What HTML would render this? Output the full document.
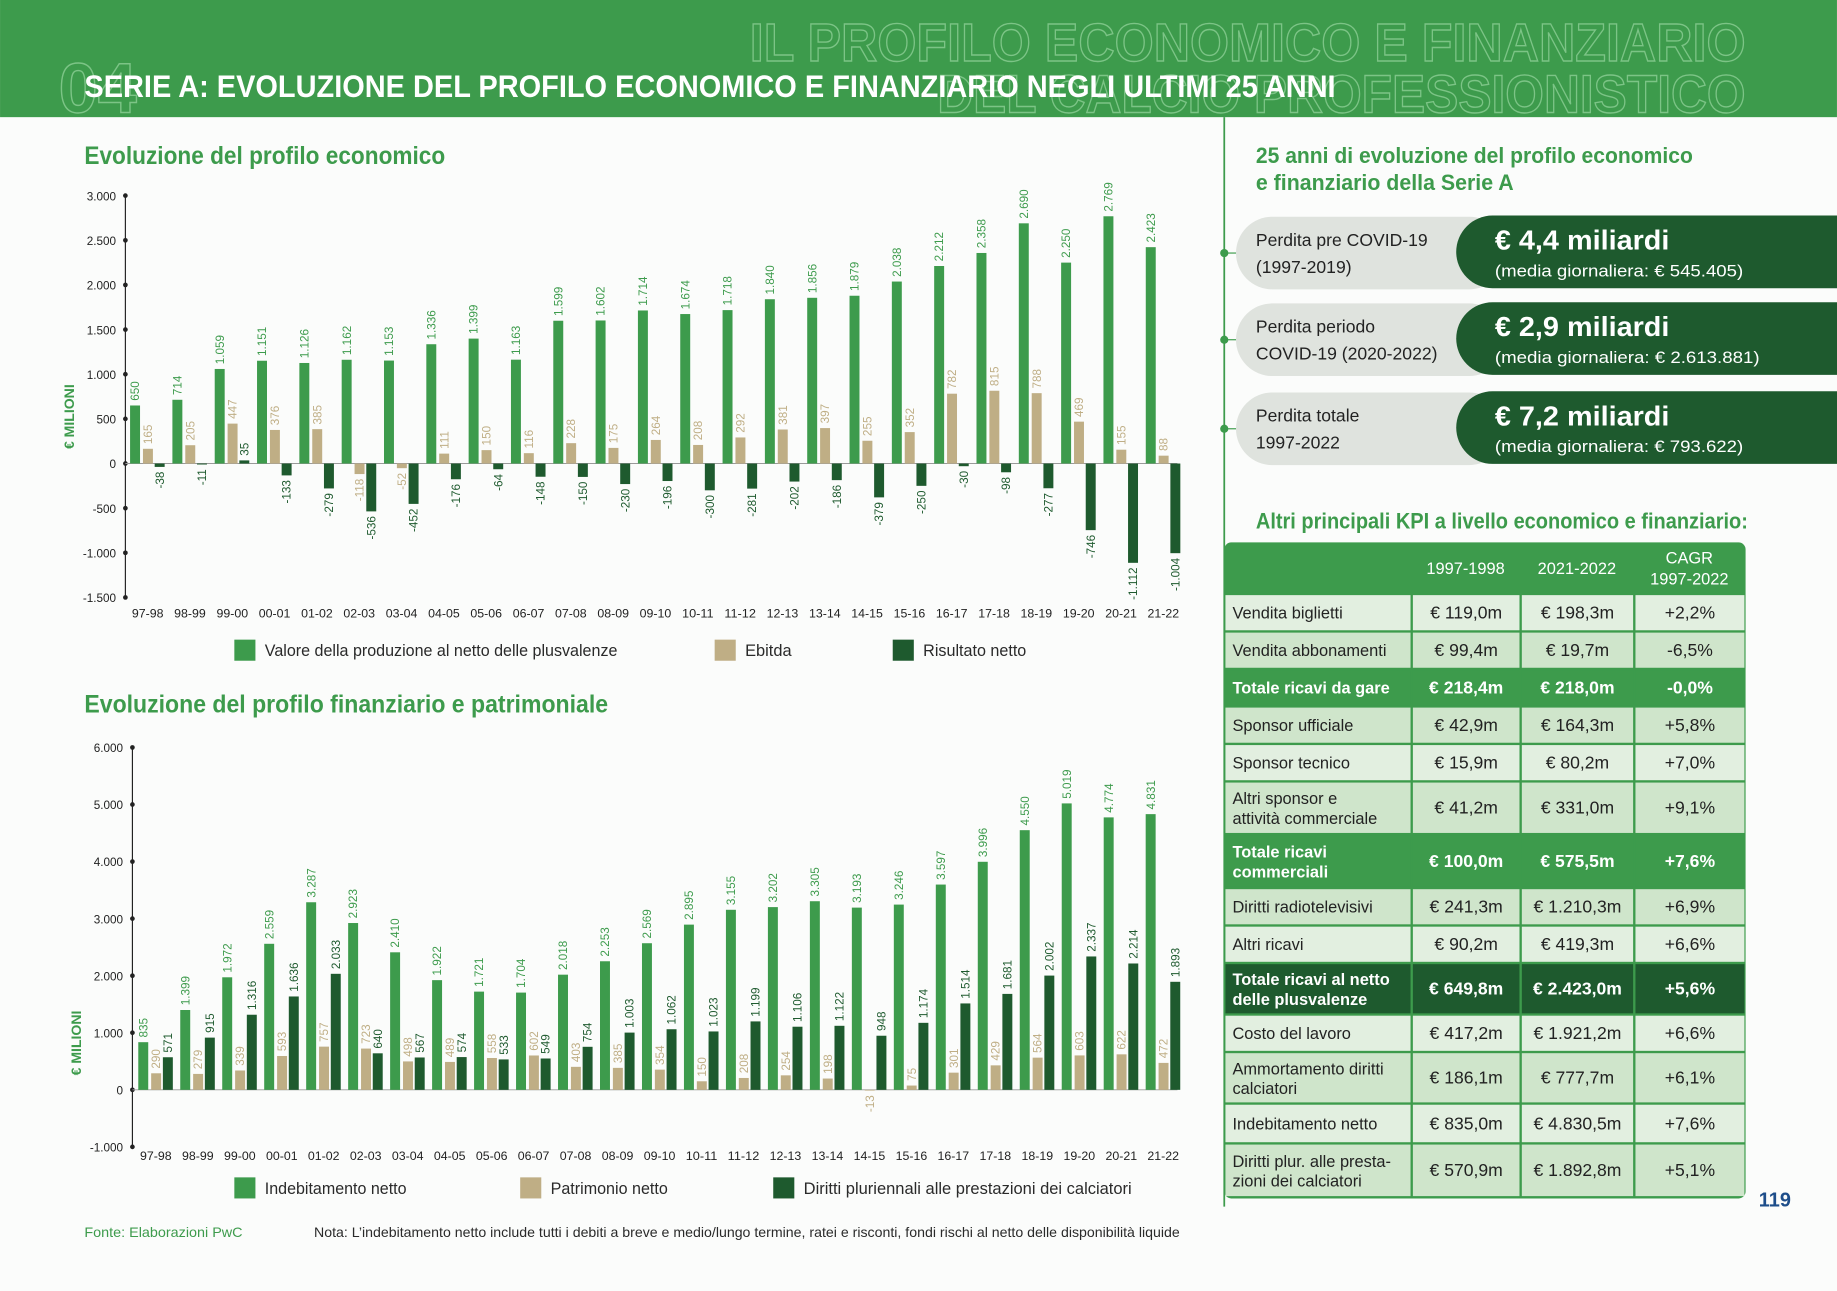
<!DOCTYPE html>
<html><head><meta charset="utf-8">
<style>
html,body{margin:0;padding:0;background:#fbfcfb;}
svg{display:block;font-family:"Liberation Sans Narrow","Liberation Sans",sans-serif;}
</style></head>
<body>
<svg id="s" width="1837" height="1291" viewBox="0 0 1568 1102" xmlns="http://www.w3.org/2000/svg">
<rect x="0" y="0" width="1568" height="1102" fill="#fbfcfb"/>
<rect x="0" y="0" width="1568" height="100" fill="#3d9b4c"/>
<text x="1490" y="52" text-anchor="end" font-size="46" font-weight="bold" fill="none" stroke="#7cc486" stroke-width="1.2" textLength="850" lengthAdjust="spacingAndGlyphs">IL PROFILO ECONOMICO E FINANZIARIO</text>
<text x="1490" y="96" text-anchor="end" font-size="46" font-weight="bold" fill="none" stroke="#7cc486" stroke-width="1.2" textLength="690" lengthAdjust="spacingAndGlyphs">DEL CALCIO PROFESSIONISTICO</text>
<text x="50" y="96" font-size="60" font-weight="bold" fill="none" stroke="#7cc486" stroke-width="1.2">04</text>
<text x="72" y="83" font-size="27" font-weight="bold" fill="#ffffff" textLength="1068" lengthAdjust="spacingAndGlyphs">SERIE A: EVOLUZIONE DEL PROFILO ECONOMICO E FINANZIARIO NEGLI ULTIMI 25 ANNI</text>

<text x="72" y="140" font-size="21" font-weight="bold" fill="#3d9b4c" textLength="308" lengthAdjust="spacingAndGlyphs">Evoluzione del profilo economico</text>
<text x="72" y="608" font-size="21" font-weight="bold" fill="#3d9b4c" textLength="447" lengthAdjust="spacingAndGlyphs">Evoluzione del profilo finanziario e patrimoniale</text>

<g id="c1"></g><g id="c2"></g>

<g font-size="14" fill="#2a2a2a">
<rect x="200" y="546" width="18" height="18" fill="#3d9b4c"/><text x="226" y="560" textLength="301" lengthAdjust="spacingAndGlyphs">Valore della produzione al netto delle plusvalenze</text>
<rect x="610" y="546" width="18" height="18" fill="#bfae85"/><text x="636" y="560">Ebitda</text>
<rect x="762" y="546" width="18" height="18" fill="#1e5a2e"/><text x="788" y="560" textLength="88" lengthAdjust="spacingAndGlyphs">Risultato netto</text>
<rect x="200" y="1005" width="18" height="18" fill="#3d9b4c"/><text x="226" y="1019" textLength="121" lengthAdjust="spacingAndGlyphs">Indebitamento netto</text>
<rect x="444" y="1005" width="18" height="18" fill="#bfae85"/><text x="470" y="1019" textLength="100" lengthAdjust="spacingAndGlyphs">Patrimonio netto</text>
<rect x="660" y="1005" width="18" height="18" fill="#1e5a2e"/><text x="686" y="1019" textLength="280" lengthAdjust="spacingAndGlyphs">Diritti pluriennali alle prestazioni dei calciatori</text>
</g>
<text x="72" y="1056" font-size="12" fill="#3d9b4c" textLength="135" lengthAdjust="spacingAndGlyphs">Fonte: Elaborazioni PwC</text>
<text x="268" y="1056" font-size="12" fill="#2a2a2a" textLength="739" lengthAdjust="spacingAndGlyphs">Nota: L’indebitamento netto include tutti i debiti a breve e medio/lungo termine, ratei e risconti, fondi rischi al netto delle disponibilità liquide</text>

<line x1="1045" y1="100" x2="1045" y2="1030" stroke="#3d9b4c" stroke-width="1.5"/>
<text x="1072" y="139" font-size="19" font-weight="bold" fill="#3d9b4c" textLength="373" lengthAdjust="spacingAndGlyphs">25 anni di evoluzione del profilo economico</text>
<text x="1072" y="162" font-size="19" font-weight="bold" fill="#3d9b4c" textLength="220" lengthAdjust="spacingAndGlyphs">e finanziario della Serie A</text>
<g id="pills"></g>
<text x="1072" y="451" font-size="19" font-weight="bold" fill="#3d9b4c" textLength="420" lengthAdjust="spacingAndGlyphs">Altri principali KPI a livello economico e finanziario:</text>
<g id="tbl"></g>
<text x="1515" y="1030" font-size="17" font-weight="bold" fill="#1e4e8a" text-anchor="middle">119</text>
</svg>
<script>
const NS="http://www.w3.org/2000/svg";
function el(p,t,a,txt){const e=document.createElementNS(NS,t);for(const k in a)e.setAttribute(k,a[k]);if(txt!==undefined)e.textContent=txt;p.appendChild(e);return e;}
const G="#3d9b4c",T="#bfae85",D="#1e5a2e";
const cats=["97-98","98-99","99-00","00-01","01-02","02-03","03-04","04-05","05-06","06-07","07-08","08-09","09-10","10-11","11-12","12-13","13-14","14-15","15-16","16-17","17-18","18-19","19-20","20-21","21-22"];
function fmt(v){let s=Math.abs(v).toString();if(s.length>3)s=s.slice(0,s.length-3)+"."+s.slice(-3);return (v<0?"-":"")+s;}
function chart(g,o){
  const sc=o.pxPer, y0=o.top+o.max*sc;
  el(g,"line",{x1:o.ax,y1:o.top,x2:o.ax,y2:o.top+(o.max-o.min)*sc,stroke:"#222","stroke-width":1});
  for(let v=o.max;v>=o.min;v-=o.step){const y=o.top+(o.max-v)*sc;
    el(g,"circle",{cx:o.ax,cy:y,r:2,fill:"#222"});
    el(g,"text",{x:o.ax-8,y:y+4,"font-size":10,"text-anchor":"end",fill:"#222"},v==0?"0":fmt(v));}
  el(g,"line",{x1:o.ax,y1:y0,x2:1005,y2:y0,stroke:"#999","stroke-width":0.8});
  el(g,"text",{transform:`translate(${o.ax-44},${y0-40}) rotate(-90)`,"font-size":12,"font-weight":"bold",fill:G,"text-anchor":"middle"},"€ MILIONI");
  cats.forEach((c,i)=>{const cx=o.x0+i*o.dx;
    el(g,"text",{x:cx,y:o.labY,"font-size":10,"text-anchor":"middle",fill:"#222",textLength:27,lengthAdjust:"spacingAndGlyphs"},c);
    [[o.a,G,-15],[o.b,T,-4],[o.c,D,6]].forEach(([arr,col,off])=>{
      const v=arr[i],h=Math.abs(v)*sc,bx=cx+off,y=v>=0?y0-h:y0;
      el(g,"rect",{x:bx,y:y,width:8.5,height:Math.max(h,0.5),fill:col});
      const tx=bx+8.5/2+3.5;
      if(v>=0) el(g,"text",{transform:`translate(${tx},${y0-h-4}) rotate(-90)`,"font-size":10,fill:col},fmt(v));
      else el(g,"text",{transform:`translate(${tx},${y0+h+4}) rotate(-90)`,"font-size":10,fill:col,"text-anchor":"end"},fmt(v));
    });});
}
chart(document.getElementById("c1"),{ax:107,top:167,max:3000,min:-1500,step:500,pxPer:343/4500,x0:126,dx:36.125,labY:527,
 a:[650,714,1059,1151,1126,1162,1153,1336,1399,1163,1599,1602,1714,1674,1718,1840,1856,1879,2038,2212,2358,2690,2250,2769,2423],
 b:[165,205,447,376,385,-118,-52,111,150,116,228,175,264,208,292,381,397,255,352,782,815,788,469,155,88],
 c:[-38,-11,35,-133,-279,-536,-452,-176,-64,-148,-150,-230,-196,-300,-281,-202,-186,-379,-250,-30,-98,-277,-746,-1112,-1004]});
chart(document.getElementById("c2"),{ax:113,top:638,max:6000,min:-1000,step:1000,pxPer:341/7000,x0:133,dx:35.83,labY:990,
 a:[835,1399,1972,2559,3287,2923,2410,1922,1721,1704,2018,2253,2569,2895,3155,3202,3305,3193,3246,3597,3996,4550,5019,4774,4831],
 b:[290,279,339,593,757,723,498,489,558,602,403,385,354,150,208,254,198,-13,75,301,429,564,603,622,472],
 c:[571,915,1316,1636,2033,640,567,574,533,549,754,1003,1062,1023,1199,1106,1122,948,1174,1514,1681,2002,2337,2214,1893]});
const P=document.getElementById("pills");
[[185,"Perdita pre COVID-19","(1997-2019)","€ 4,4 miliardi","(media giornaliera: € 545.405)",212],
 [259,"Perdita periodo","COVID-19 (2020-2022)","€ 2,9 miliardi","(media giornaliera: € 2.613.881)",226],
 [335,"Perdita totale","1997-2022","€ 7,2 miliardi","(media giornaliera: € 793.622)",212]].forEach(([y,a,b,c,d,dl])=>{
  el(P,"circle",{cx:1045,cy:y+31,r:3.5,fill:G});
  el(P,"line",{x1:1045,y1:y+31,x2:1058,y2:y+31,stroke:G});
  el(P,"rect",{x:1055,y:y,width:230,height:62,rx:31,fill:"#dfe3de"});
  el(P,"rect",{x:1243,y:y-1,width:360,height:62,rx:31,fill:D});
  el(P,"text",{x:1072,y:y+25,"font-size":15,fill:"#222"},a);
  el(P,"text",{x:1072,y:y+48,"font-size":15,fill:"#222"},b);
  el(P,"text",{x:1276,y:y+28,"font-size":24,"font-weight":"bold",fill:"#fff",textLength:149,lengthAdjust:"spacingAndGlyphs"},c);
  el(P,"text",{x:1276,y:y+51,"font-size":14,fill:"#fff",textLength:dl,lengthAdjust:"spacingAndGlyphs"},d);
});
const Tb=document.getElementById("tbl");
el(Tb,"rect",{x:1045,y:463,width:445,height:560,rx:6,fill:G});
const cols=[1045,1205,1298,1395,1490];
el(Tb,"text",{x:1251,y:490,"font-size":14,fill:"#fff","text-anchor":"middle"},"1997-1998");
el(Tb,"text",{x:1346,y:490,"font-size":14,fill:"#fff","text-anchor":"middle"},"2021-2022");
el(Tb,"text",{x:1442,y:481,"font-size":14,fill:"#fff","text-anchor":"middle"},"CAGR");
el(Tb,"text",{x:1442,y:499,"font-size":14,fill:"#fff","text-anchor":"middle"},"1997-2022");
const rows=[[507,539,"n",["Vendita biglietti"],"€ 119,0m","€ 198,3m","+2,2%"],
[539,571,"n",["Vendita abbonamenti"],"€ 99,4m","€ 19,7m","-6,5%"],
[571,603,"g",["Totale ricavi da gare"],"€ 218,4m","€ 218,0m","-0,0%"],
[603,635,"n",["Sponsor ufficiale"],"€ 42,9m","€ 164,3m","+5,8%"],
[635,667,"n",["Sponsor tecnico"],"€ 15,9m","€ 80,2m","+7,0%"],
[667,712,"n",["Altri sponsor e","attività commerciale"],"€ 41,2m","€ 331,0m","+9,1%"],
[712,758,"g",["Totale ricavi","commerciali"],"€ 100,0m","€ 575,5m","+7,6%"],
[758,790,"n",["Diritti radiotelevisivi"],"€ 241,3m","€ 1.210,3m","+6,9%"],
[790,822,"n",["Altri ricavi"],"€ 90,2m","€ 419,3m","+6,6%"],
[822,866,"d",["Totale ricavi al netto","delle plusvalenze"],"€ 649,8m","€ 2.423,0m","+5,6%"],
[866,898,"n",["Costo del lavoro"],"€ 417,2m","€ 1.921,2m","+6,6%"],
[898,942,"n",["Ammortamento diritti","calciatori"],"€ 186,1m","€ 777,7m","+6,1%"],
[942,976,"n",["Indebitamento netto"],"€ 835,0m","€ 4.830,5m","+7,6%"],
[976,1022,"n",["Diritti plur. alle presta-","zioni dei calciatori"],"€ 570,9m","€ 1.892,8m","+5,1%"]];
rows.forEach(([y1,y2,t,lab,a,b,c],ri)=>{
  const bg=t=="g"?G:t=="d"?D:(ri%2?"#cfe5cb":"#e2efe0");
  const fc=t=="n"?"#222":"#fff";
  for(let k=0;k<4;k++) el(Tb,"rect",{x:cols[k]+1,y:y1+1,width:cols[k+1]-cols[k]-2,height:y2-y1-2,fill:bg});
  const m=(y1+y2)/2;
  const fw=t=="n"?"normal":"bold";
  if(lab.length==1) el(Tb,"text",{x:1052,y:m+5,"font-size":14,fill:fc,"font-weight":fw},lab[0]);
  else {el(Tb,"text",{x:1052,y:m-3,"font-size":14,fill:fc,"font-weight":fw},lab[0]);
        el(Tb,"text",{x:1052,y:m+14,"font-size":14,fill:fc,"font-weight":fw},lab[1]);}
  [a,b,c].forEach((v,k)=>el(Tb,"text",{x:(cols[k+1]+cols[k+2])/2,y:m+5,"font-size":15,fill:fc,"text-anchor":"middle","font-weight":fw},v));
});
</script>
</body></html>
